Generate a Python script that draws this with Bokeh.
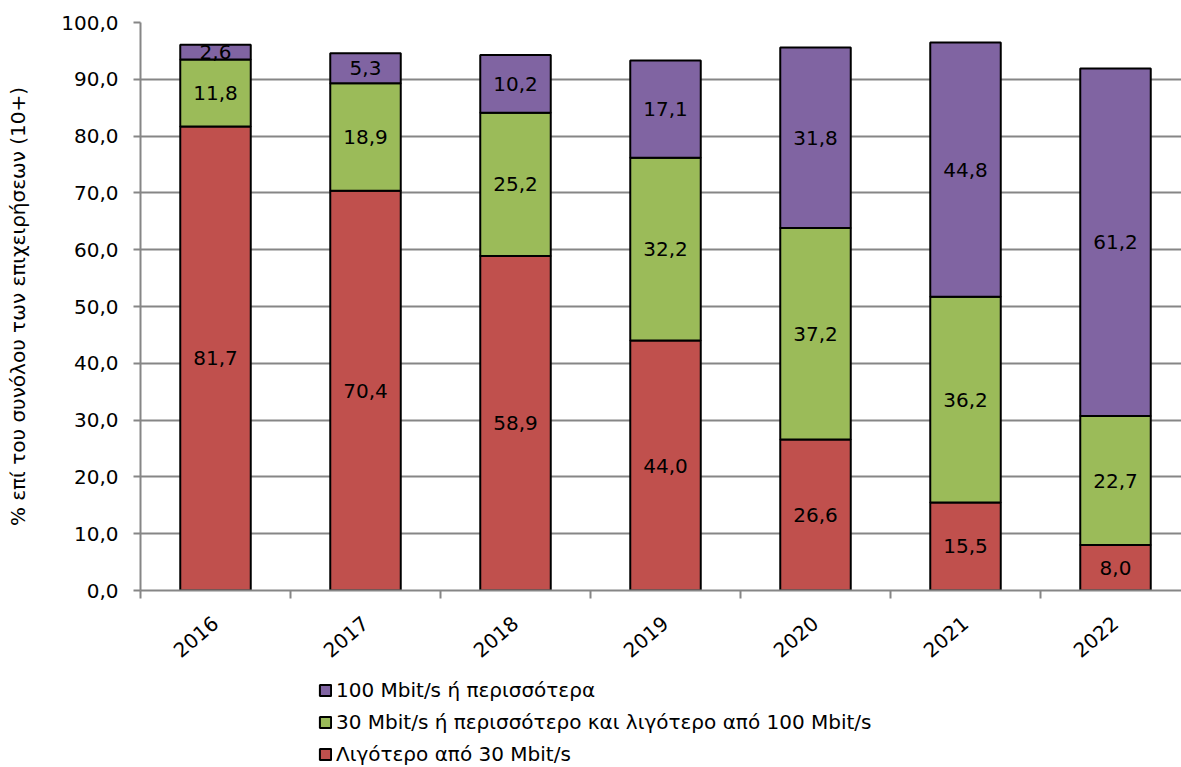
from bokeh.plotting import figure
from bokeh.layouts import column
from bokeh.models import (Range1d, FixedTicker, Legend, LegendItem, ColumnDataSource)
from bokeh.core.properties import value
from bokeh.embed import file_html
from bokeh.resources import INLINE

years = ["2016", "2017", "2018", "2019", "2020", "2021", "2022"]
low = [81.7, 70.4, 58.9, 44.0, 26.6, 15.5, 8.0]
mid = [11.8, 18.9, 25.2, 32.2, 37.2, 36.2, 22.7]
high = [2.6, 5.3, 10.2, 17.1, 31.8, 44.8, 61.2]
names = ["Λιγότερο από 30 Mbit/s",
         "30 Mbit/s ή περισσότερο και λιγότερο από 100 Mbit/s",
         "100 Mbit/s ή περισσότερα"]
colors = ["#C0504D", "#9BBB59", "#8064A2"]
yticks = [0, 10, 20, 30, 40, 50, 60, 70, 80, 90, 100]

FONT = "DejaVu Sans"
FS = "20px"
GRAY = "#868686"

xs = [i + 0.5 for i in range(len(years))]
src = ColumnDataSource(dict(x=xs, low=low, mid=mid, high=high))

p = figure(width=1181, height=668, output_backend="svg", toolbar_location=None,
           x_range=Range1d(0, 6.94), y_range=Range1d(0, 100),
           min_border_left=140, min_border_top=22, min_border_right=0,
           min_border_bottom=78)
p.outline_line_color = None

rs = p.vbar_stack(["low", "mid", "high"], x="x", width=0.47, source=src,
                  fill_color=colors, line_color="black", line_width=2)

# segment labels
for vals, base in ((low, [0]*7), (mid, low), (high, [a + b for a, b in zip(low, mid)])):
    ys = [b + v / 2 for b, v in zip(base, vals)]
    txt = [f"{v:.1f}".replace(".", ",") for v in vals]
    p.text(x=xs, y=ys, text=txt, text_align="center", text_baseline="middle",
           text_font=value(FONT), text_font_size=FS, text_color="black")

# axes
p.xaxis.ticker = FixedTicker(ticks=xs, minor_ticks=list(range(len(years) + 1)))
p.xaxis.major_label_overrides = {x: y for x, y in zip(xs, years)}
p.xaxis.minor_tick_out = 8
p.xaxis.minor_tick_in = 0
p.xaxis.minor_tick_line_color = GRAY
p.xaxis.minor_tick_line_width = 2
p.xaxis.major_label_orientation = 0.7
p.xaxis.major_label_standoff = 22

p.yaxis.ticker = FixedTicker(ticks=yticks)
p.yaxis.major_label_overrides = {t: f"{t:.1f}".replace(".", ",") for t in yticks}
p.yaxis.minor_tick_line_color = None
p.yaxis.major_tick_out = 7
p.yaxis.major_tick_in = 0
p.yaxis.major_label_standoff = 15
p.yaxis.axis_label = "% επί του συνόλου των επιχειρήσεων (10+)"
p.yaxis.axis_label_standoff = 28

for ax in (p.xaxis, p.yaxis):
    ax.axis_line_color = GRAY
    ax.axis_line_width = 2
    ax.major_tick_line_width = 2
    ax.major_label_text_font = FONT
    ax.major_label_text_font_size = FS
    ax.major_label_text_color = "black"
    ax.axis_label_text_font = FONT
    ax.axis_label_text_font_size = FS
    ax.axis_label_text_font_style = "normal"
    ax.axis_label_text_color = "black"
p.xaxis.major_tick_line_color = None
p.yaxis.major_tick_line_color = GRAY

p.xgrid.grid_line_color = None
p.ygrid.ticker = FixedTicker(ticks=yticks)
p.ygrid.grid_line_color = GRAY
p.ygrid.grid_line_width = 2

# legend in its own strip below the chart
lf = figure(width=1181, height=99, output_backend="svg", toolbar_location=None,
            x_range=Range1d(0, 1), y_range=Range1d(0, 1),
            min_border_left=0, min_border_right=0, min_border_top=0, min_border_bottom=0,
            x_axis_type=None, y_axis_type=None)
lf.outline_line_color = None
lf.xgrid.grid_line_color = None
lf.ygrid.grid_line_color = None
hidden = ColumnDataSource(dict(x=[0.5], top=[0.5], bottom=[0.4]))
lrs = [lf.vbar(x="x", top="top", bottom="bottom", width=0.1, source=hidden, fill_color=c,
               line_color="black", line_width=2, visible=False) for c in colors]
items = [LegendItem(label=names[i], renderers=[lrs[i]]) for i in (2, 1, 0)]
legend = Legend(items=items, orientation="vertical", location=(178, 1),
                label_text_font=FONT, label_text_font_size=FS, label_text_color="black",
                glyph_width=14, glyph_height=14, label_standoff=4, spacing=8,
                padding=0, margin=0, border_line_color=None, background_fill_alpha=0,
                label_height=24, inactive_fill_alpha=0)
lf.add_layout(legend, "center")

open("out.html", "w").write(file_html(column(p, lf, spacing=0), INLINE))
